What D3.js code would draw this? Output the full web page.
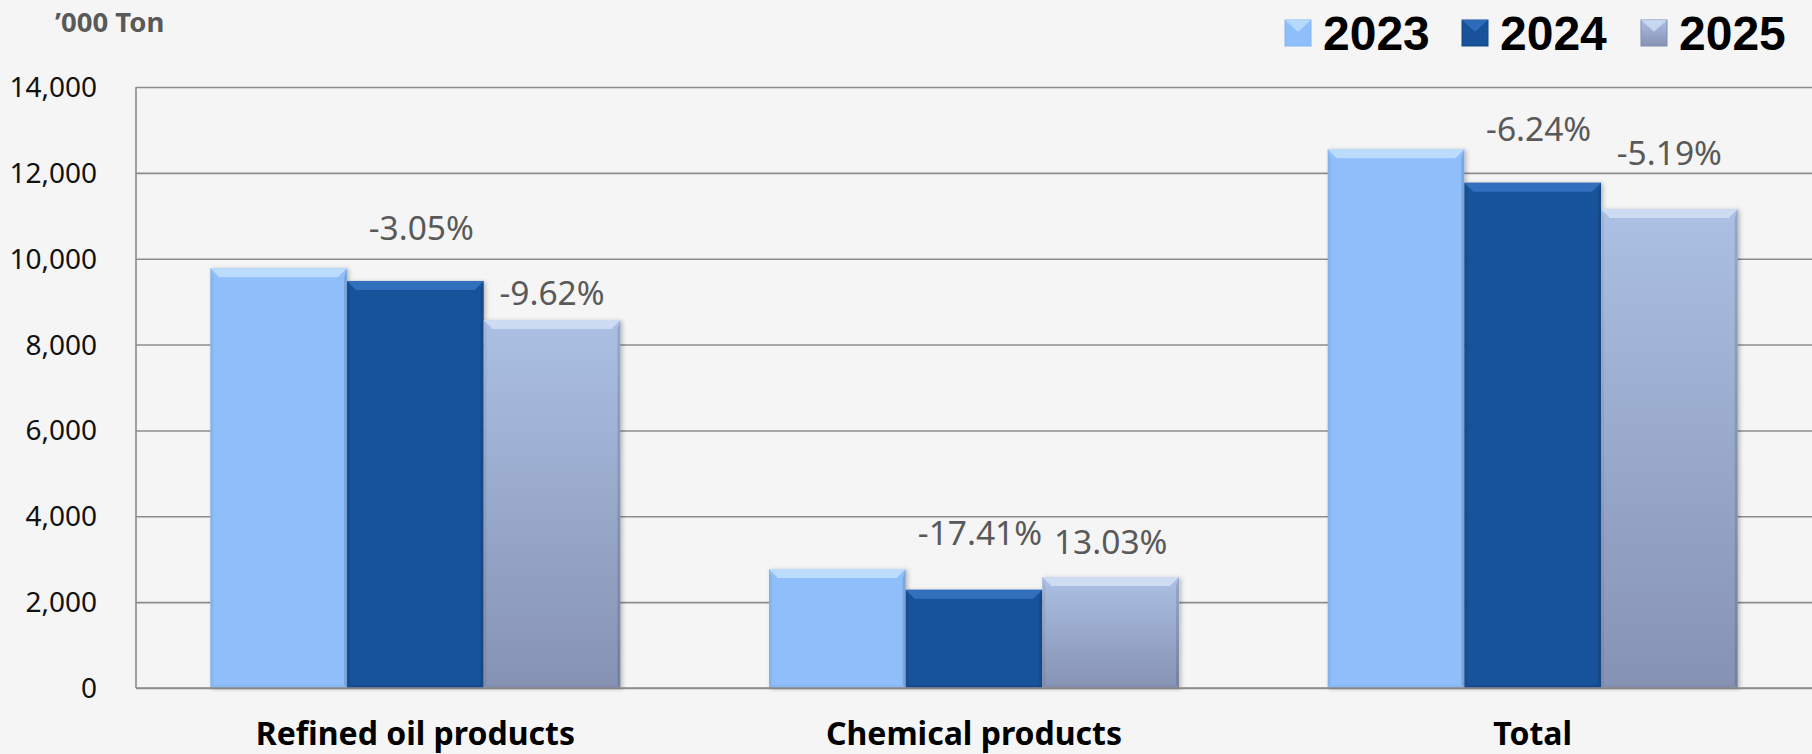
<!DOCTYPE html>
<html>
<head>
<meta charset="utf-8">
<script src="https://cdn.jsdelivr.net/npm/d3@7/dist/d3.min.js"></script>
<style>
  html, body { margin: 0; padding: 0; background: #f5f5f5; }
  svg { display: block; }
</style>
</head>
<body>
<svg id="chart" width="1812" height="754"></svg>
<script>
// ---- data ----
const categories = ["Refined oil products", "Chemical products", "Total"];
const years = ["2023", "2024", "2025"];
const values2023 = [9780, 2770, 12550];
const values2024 = [9482, 2288, 11770];
const values2025 = [8570, 2586, 11156];
const change2024 = ["-3.05%", "-17.41%", "-6.24%"];
const change2025 = ["-9.62%", "13.03%", "-5.19%"];
const yTickValues = [0, 2000, 4000, 6000, 8000, 10000, 12000, 14000];
const unitLabel = "\u2019000 Ton";

// ---- style / layout ----
const W = 1812, H = 754;
const plot = { left: 136, right: 1812, top: 87, bottom: 688 };
const styles = {
  "2023": { base: "#8ebffb", top: "#c3e1ff", bottomC: "#86b6f0", grad: null },
  "2024": { base: "#18529a", top: "#3574c4", bottomC: "#144888", grad: null },
  "2025": { base: "#9aaed6", top: "#d3e1f6", bottomC: "#7f8cad", grad: ["#abc0e4", "#8692b3"] }
};
const labelLift2024 = [41, 45, 42];
const labelLift2025 = [15, 23, 44];

const svg = d3.select("#chart");
const defs = svg.append("defs");

years.forEach(yr => {
  const s = styles[yr];
  const g = defs.append("linearGradient").attr("id", "g" + yr)
    .attr("x1", 0).attr("y1", 0).attr("x2", 0).attr("y2", 1);
  const c = s.grad || [s.base, s.base];
  g.append("stop").attr("offset", "0%").attr("stop-color", c[0]);
  g.append("stop").attr("offset", "100%").attr("stop-color", c[1]);
});
const f = defs.append("filter").attr("id", "shadow")
  .attr("x", "-10%").attr("y", "-10%").attr("width", "130%").attr("height", "130%");
f.append("feDropShadow").attr("dx", 2).attr("dy", 1).attr("stdDeviation", 2)
  .attr("flood-color", "#000").attr("flood-opacity", 0.25);

// scales
const x0 = d3.scaleBand().domain(categories)
  .range([plot.left, plot.right]).paddingInner(0.266).paddingOuter(0.133);
const x1 = d3.scaleBand().domain(years).range([0, x0.bandwidth()]);
const y = d3.scaleLinear().domain([0, 14000]).range([plot.bottom, plot.top]);

// y axis + gridlines
const yAxis = svg.append("g").attr("transform", `translate(${plot.left},0)`)
  .call(d3.axisLeft(y).tickValues(yTickValues)
    .tickSize(-(plot.right - plot.left)).tickPadding(39)
    .tickFormat(d3.format(",")));
yAxis.select(".domain").remove();
yAxis.selectAll(".tick line").attr("stroke", "#8c8c8c").attr("stroke-width", 1.6);
yAxis.selectAll(".tick text")
  .attr("font-family", "Noto Sans, sans-serif").attr("font-size", 28)
  .attr("fill", "#111").attr("dy", "0.34em");
svg.append("line").attr("x1", plot.left).attr("x2", plot.left)
  .attr("y1", plot.top).attr("y2", plot.bottom)
  .attr("stroke", "#8c8c8c").attr("stroke-width", 1.6);

// bars
const seriesVals = { "2023": values2023, "2024": values2024, "2025": values2025 };
const bevel = 9;
function drawBar(g, x, yTop, w, h, yr) {
  const s = styles[yr];
  const bg = g.append("g").attr("filter", "url(#shadow)");
  bg.append("rect").attr("x", x).attr("y", yTop).attr("width", w).attr("height", h)
    .attr("fill", `url(#g${yr})`);
  const b = Math.min(bevel, h / 2);
  bg.append("polygon").attr("points",
    [[x, yTop], [x + w, yTop], [x + w - b, yTop + b], [x + b, yTop + b]].map(p => p.join(",")).join(" "))
    .attr("fill", s.top).attr("opacity", 0.85);
  bg.append("polygon").attr("points",
    [[x, yTop], [x + 3, yTop + b], [x + 3, yTop + h - 3], [x, yTop + h]].map(p => p.join(",")).join(" "))
    .attr("fill", "#000").attr("opacity", 0.06);
  bg.append("polygon").attr("points",
    [[x + w, yTop], [x + w - 3, yTop + b], [x + w - 3, yTop + h - 3], [x + w, yTop + h]].map(p => p.join(",")).join(" "))
    .attr("fill", "#000").attr("opacity", 0.12);
  bg.append("polygon").attr("points",
    [[x, yTop + h], [x + 3, yTop + h - 3], [x + w - 3, yTop + h - 3], [x + w, yTop + h]].map(p => p.join(",")).join(" "))
    .attr("fill", s.bottomC).attr("opacity", 0.8);
}

const barsG = svg.append("g");
categories.forEach((cat, i) => {
  years.forEach(yr => {
    const v = seriesVals[yr][i];
    const bx = x0(cat) + x1(yr);
    drawBar(barsG, bx, y(v), x1.bandwidth(), y(0) - y(v), yr);
  });
});

svg.append("line").attr("x1", plot.left).attr("x2", plot.right)
  .attr("y1", plot.bottom).attr("y2", plot.bottom)
  .attr("stroke", "#8c8c8c").attr("stroke-width", 1.6);

// change labels
const lblG = svg.append("g").attr("font-family", "Noto Sans, sans-serif")
  .attr("font-size", 33.5).attr("fill", "#595959").attr("text-anchor", "middle");
categories.forEach((cat, i) => {
  lblG.append("text")
    .attr("x", x0(cat) + x1("2024") + x1.bandwidth() / 2 + 6)
    .attr("y", y(values2024[i]) - labelLift2024[i])
    .text(change2024[i]);
  lblG.append("text")
    .attr("x", x0(cat) + x1("2025") + x1.bandwidth() / 2)
    .attr("y", y(values2025[i]) - labelLift2025[i])
    .text(change2025[i]);
});

// x axis labels
const xAxis = svg.append("g").attr("transform", `translate(0,${plot.bottom})`)
  .call(d3.axisBottom(x0).tickSize(0));
xAxis.select(".domain").remove();
xAxis.selectAll(".tick text")
  .attr("font-family", "Noto Sans, sans-serif").attr("font-size", 32)
  .attr("font-weight", "bold").attr("fill", "#000")
  .attr("dy", null).attr("y", 57);

// unit label
svg.append("text").attr("x", 55).attr("y", 32)
  .attr("font-family", "Noto Sans, sans-serif").attr("font-size", 27.5)
  .attr("font-weight", "bold").attr("fill", "#595959").text(unitLabel);

// legend
const legendX = [1285, 1462, 1641];
const lg = svg.append("g");
years.forEach((yr, i) => {
  const g = lg.append("g");
  const sx = legendX[i], sy = 20, sz = 26;
  const s = styles[yr];
  g.append("rect").attr("x", sx).attr("y", sy).attr("width", sz).attr("height", sz)
    .attr("fill", `url(#g${yr})`).attr("stroke", s.bottomC).attr("stroke-width", 1);
  g.append("polygon").attr("points",
    [[sx, sy], [sx + sz, sy], [sx + sz / 2, sy + sz * 0.45]].map(p => p.join(",")).join(" "))
    .attr("fill", s.top).attr("opacity", 0.75);
  g.append("text").attr("x", sx + 38).attr("y", 50)
    .attr("font-family", "Liberation Sans, Arial, sans-serif").attr("font-size", 48)
    .attr("font-weight", "bold").attr("fill", "#000").text(yr);
});
</script>
</body>
</html>
